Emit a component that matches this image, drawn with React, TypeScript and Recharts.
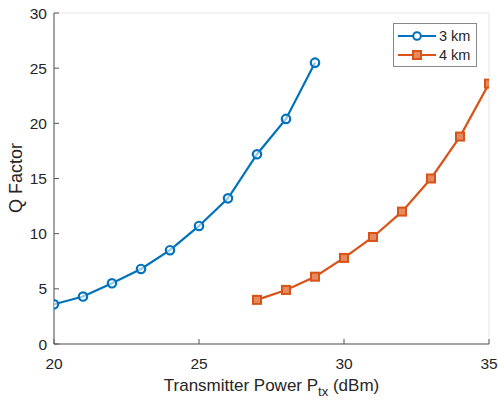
import React from 'react';
import { LineChart, Line, XAxis, YAxis, CartesianGrid } from 'recharts';

const xs3km = [20, 21, 22, 23, 24, 25, 26, 27, 28, 29];
const q3km = [3.6, 4.3, 5.5, 6.8, 8.5, 10.7, 13.2, 17.2, 20.4, 25.5];
const xs4km = [27, 28, 29, 30, 31, 32, 33, 34, 35];
const q4km = [4.0, 4.9, 6.1, 7.8, 9.7, 12.0, 15.0, 18.8, 23.6];
const xTicks = [20, 25, 30, 35];
const yTicks = [0, 5, 10, 15, 20, 25, 30];

const BLUE = '#0072BD';
const ORANGE = '#D95319';
const AXIS = '#555555';
const FONT = '"Liberation Sans", Arial, sans-serif';

const data3 = xs3km.map((x, i) => ({ x, q: q3km[i] }));
const data4 = xs4km.map((x, i) => ({ x, q: q4km[i] }));

const CircleDot = (props: any) => {
  const { cx, cy } = props;
  if (cx == null || cy == null) return null;
  return <circle cx={cx} cy={cy} r={4.2} fill="#ffffff" fillOpacity={0.6} stroke={BLUE} strokeWidth={2.2} />;
};

const SquareDot = (props: any) => {
  const { cx, cy } = props;
  if (cx == null || cy == null) return null;
  return <rect x={cx - 4} y={cy - 4} width={8} height={8} fill="#e58a5f" stroke={ORANGE} strokeWidth={2} />;
};

// x label with subscript
const XLabel = ({ viewBox }: any) => {
  const cx = viewBox.x + viewBox.width / 2;
  return (
    <text x={cx} y={391} textAnchor="middle" fontSize={17} fill="#262626" fontFamily={FONT}>
      Transmitter Power P
      <tspan fontSize={13} dy={5}>tx</tspan>
      <tspan dy={-5}> (dBm)</tspan>
    </text>
  );
};

const YLabel = () => (
  <text x={22} y={178} transform="rotate(-90 22 178)" textAnchor="middle" fontSize={18} fill="#262626" fontFamily={FONT}>
    Q Factor
  </text>
);

const LegendBox = () => (
  <div
    style={{
      position: 'absolute',
      left: 393,
      top: 23,
      border: '1px solid #888',
      background: '#fff',
      width: 84,
      height: 44,
      boxSizing: 'border-box',
      fontFamily: FONT,
      fontSize: 14.5,
      color: '#262626',
      padding: '2px 0 0 3px',
    }}
  >
    <div style={{ display: 'flex', alignItems: 'center', height: 19 }}>
      <svg width={40} height={12}>
        <line x1={1} y1={6} x2={39} y2={6} stroke={BLUE} strokeWidth={2.2} />
        <circle cx={20} cy={6} r={3.8} fill="#fff" stroke={BLUE} strokeWidth={2} />
      </svg>
      <span style={{ marginLeft: 2 }}>3 km</span>
    </div>
    <div style={{ display: 'flex', alignItems: 'center', height: 19 }}>
      <svg width={40} height={12}>
        <line x1={1} y1={6} x2={39} y2={6} stroke={ORANGE} strokeWidth={2.2} />
        <rect x={16} y={2} width={8} height={8} fill="#e58a5f" stroke={ORANGE} strokeWidth={2} />
      </svg>
      <span style={{ marginLeft: 2 }}>4 km</span>
    </div>
  </div>
);

const App: React.FC = () => {
  return (
    <div style={{ position: 'absolute', left: 0, top: 0, width: 498, height: 402, background: '#fff' }}>
      <LineChart width={498} height={402} margin={{ top: 13, right: 9, left: 0, bottom: 0 }}>
        <CartesianGrid stroke="#e6e6e6" strokeWidth={1} />
        <XAxis
          xAxisId="bottom"
          type="number"
          dataKey="x"
          domain={[20, 35]}
          ticks={xTicks}
          allowDataOverflow
          height={58}
          stroke={AXIS}
          tickSize={-5}
          tickMargin={19}
          tick={{ fill: '#262626', fontSize: 15.5, fontFamily: FONT }}
          label={<XLabel />}
        />
        <XAxis xAxisId="top" orientation="top" type="number" domain={[20, 35]} ticks={xTicks} height={0} stroke={AXIS} tick={false} tickSize={0} />
        <YAxis
          yAxisId="left"
          type="number"
          domain={[0, 30]}
          ticks={yTicks}
          width={54}
          stroke={AXIS}
          tickSize={-5}
          tickMargin={12}
          tick={{ fill: '#262626', fontSize: 15.5, fontFamily: FONT }}
          label={<YLabel />}
        />
        <YAxis yAxisId="right" orientation="right" type="number" domain={[0, 30]} ticks={yTicks} width={0} stroke={AXIS} tick={false} tickSize={0} />
        <Line
          xAxisId="bottom"
          yAxisId="left"
          data={data3}
          dataKey="q"
          name="3 km"
          stroke={BLUE}
          strokeWidth={2.2}
          dot={<CircleDot />}
          isAnimationActive={false}
        />
        <Line
          xAxisId="bottom"
          yAxisId="left"
          data={data4}
          dataKey="q"
          name="4 km"
          stroke={ORANGE}
          strokeWidth={2.2}
          dot={<SquareDot />}
          isAnimationActive={false}
        />
      </LineChart>
      <LegendBox />
    </div>
  );
};

export default App;
